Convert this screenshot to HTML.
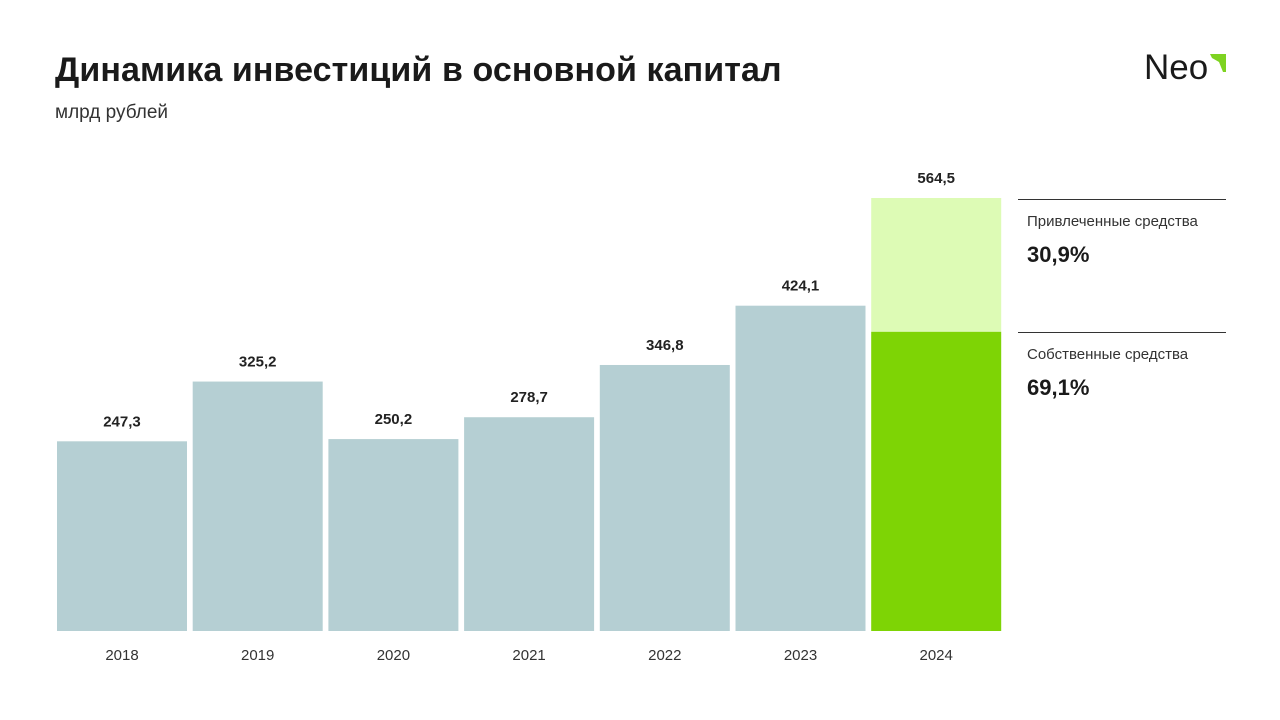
<!DOCTYPE html>
<html><head><meta charset="utf-8"><style>
body{margin:0;width:1280px;height:720px;background:#fff;font-family:"Liberation Sans",sans-serif;overflow:hidden;position:relative;color:#1a1a1a}
.t{position:absolute;white-space:nowrap}
</style></head><body>
<div class="t" style="left:55px;top:51px;font-size:34px;font-weight:bold;letter-spacing:0.1px">Динамика инвестиций в основной капитал</div>
<div class="t" style="left:55px;top:102px;font-size:19px;color:#333">млрд рублей</div>
<div class="t" style="left:1144px;top:48px;font-size:35px;color:#1a1a1a">Neo</div>
<svg style="position:absolute;left:1210px;top:54px" width="16" height="18"><polygon points="0,0 16,0 16,18 13,18 9,8 2,4" fill="#7ed321"/></svg>
<svg id="c" width="1280" height="720" style="position:absolute;left:0;top:0"></svg>
<div style="position:absolute;left:1018px;top:199px;width:208px;height:1px;background:#333"></div>
<div class="t" style="left:1027px;top:213px;font-size:15px;color:#333">Привлеченные средства</div>
<div class="t" style="left:1027px;top:242px;font-size:22px;font-weight:bold">30,9%</div>
<div style="position:absolute;left:1018px;top:332px;width:208px;height:1px;background:#333"></div>
<div class="t" style="left:1027px;top:346px;font-size:15px;color:#333">Собственные средства</div>
<div class="t" style="left:1027px;top:375px;font-size:22px;font-weight:bold">69,1%</div>
<script>
const categories=["2018","2019","2020","2021","2022","2023","2024"];
const values=[247.3,325.2,250.2,278.7,346.8,424.1,564.5];
const labels=["247,3","325,2","250,2","278,7","346,8","424,1","564,5"];
const ownShare=[69.1];
const svg=document.getElementById('c');
const NS='http://www.w3.org/2000/svg';
const base=631,k=433/564.5;
const y=v=>base-v*k;
const x=i=>57+i*135.7;
const bw=130;
categories.forEach((c,i)=>{
  const v=values[i],last=i===categories.length-1;
  if(!last){
    const r=document.createElementNS(NS,'rect');
    
    
    r.setAttribute('x',x(i));r.setAttribute('y',y(v));r.setAttribute('width',bw);r.setAttribute('height',base-y(v));r.setAttribute('fill','#b5cfd3');
    svg.appendChild(r);
  }else{
    const own=v*ownShare[0]/100;
    const r1=document.createElementNS(NS,'rect');
    
    
    r1.setAttribute('x',x(i));r1.setAttribute('y',y(v));r1.setAttribute('width',bw);r1.setAttribute('height',y(own)-y(v));r1.setAttribute('fill','#ddfbb5');
    svg.appendChild(r1);
    const r2=document.createElementNS(NS,'rect');
    
    
    r2.setAttribute('x',x(i));r2.setAttribute('y',y(own));r2.setAttribute('width',bw);r2.setAttribute('height',base-y(own));r2.setAttribute('fill','#7ed405');
    svg.appendChild(r2);
  }
  const t=document.createElementNS(NS,'text');
  
  
  t.setAttribute('x',x(i)+bw/2);t.setAttribute('y',y(v)-15);t.setAttribute('text-anchor','middle');
  t.setAttribute('font-size','15');t.setAttribute('font-weight','bold');t.setAttribute('fill','#222');t.setAttribute('font-family','Liberation Sans, sans-serif');
  t.textContent=labels[i];svg.appendChild(t);
  const a=document.createElementNS(NS,'text');
  
  
  a.setAttribute('x',x(i)+bw/2);a.setAttribute('y',660);a.setAttribute('text-anchor','middle');
  a.setAttribute('font-size','15');a.setAttribute('fill','#333');a.setAttribute('font-family','Liberation Sans, sans-serif');
  a.textContent=c;svg.appendChild(a);
});
</script>
</body></html>
